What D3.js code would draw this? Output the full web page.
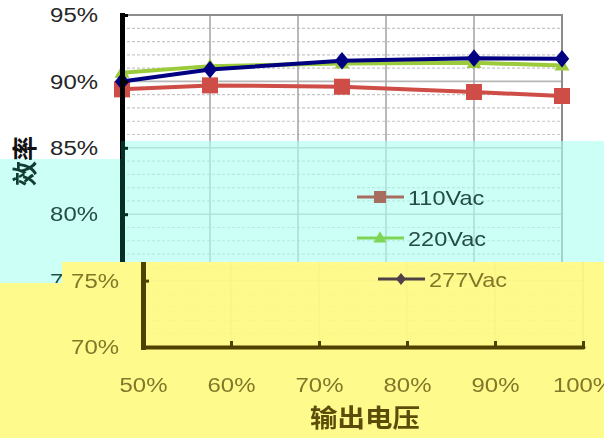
<!DOCTYPE html>
<html><head><meta charset="utf-8">
<script src="https://cdn.jsdelivr.net/npm/d3@7"></script>
<style>html,body{margin:0;padding:0;background:#fff;overflow:hidden}</style>
</head><body><svg id="c" width="604" height="438"></svg>
<script>
// ---- data ----
const xValues = [50, 60, 75, 90, 100];
const v110 = [89.4, 89.7, 89.6, 89.2, 88.9];
const v220 = [90.65, 91.15, 91.35, 91.4, 91.2];
const v277 = [90.0, 90.9, 91.55, 91.75, 91.7];
const seriesNames = ["110Vac", "220Vac", "277Vac"];
const xTicks = [50, 60, 70, 80, 90, 100];
const yTicks = [70, 75, 80, 85, 90, 95];
const xTitle = "输出电压";
const yTitle = "效率";

// ---- layout / style ----
const W = 604, H = 438;
const x = d3.scaleLinear().domain([50, 100]).range([122, 562]);
const y = d3.scaleLinear().domain([70, 95]).range([347, 15]);
const SX = 1.14;
const FONT = '"Liberation Sans", Arial, sans-serif';
const CJK = '"Noto Sans CJK SC", "Noto Sans CJK JP", sans-serif';

const series = [
  {name: seriesNames[0], values: v110, color: "#cf4d47", symbol: "square", ms: 16, ls: 12},
  {name: seriesNames[1], values: v220, color: "#9bcb3b", symbol: "triangle", ms: 15, ls: 13},
  {name: seriesNames[2], values: v277, color: "#000080", symbol: "diamond", ms: 16, ls: 11}
];

function markerPath(type, s) {
  if (type === "square") return `M${-s/2},${-s/2}h${s}v${s}h${-s}Z`;
  if (type === "diamond") { const w = s*0.45, h = s*0.55; return `M0,${-h}L${w},0L0,${h}L${-w},0Z`; }
  const w = s*0.5, h = s*0.85;
  return `M0,${-h*0.6}L${w},${h*0.4}L${-w},${h*0.4}Z`;
}

function drawChart(g, gridAlpha, textFill) {
  const grid = g.append("g").attr("opacity", gridAlpha);
  // minor dashed grid
  grid.append("g").selectAll("line")
    .data(d3.range(71, 95).filter(v => v % 5 !== 0)).join("line")
    .attr("x1", x(50)).attr("x2", x(100))
    .attr("y1", d => y(d)).attr("y2", d => y(d))
    .attr("stroke", "#c6c6c6").attr("stroke-width", 1.2).attr("stroke-dasharray", "3,2");
  // major horizontal grid
  grid.append("g").selectAll("line")
    .data(yTicks.filter(v => v > 70 && v < 95)).join("line")
    .attr("x1", x(50)).attr("x2", x(100))
    .attr("y1", d => y(d)).attr("y2", d => y(d))
    .attr("stroke", "#b8b8b8").attr("stroke-width", 1.6);
  // vertical grid
  grid.append("g").selectAll("line")
    .data(xTicks.filter(v => v > 50 && v < 100)).join("line")
    .attr("x1", d => x(d)).attr("x2", d => x(d))
    .attr("y1", y(95)).attr("y2", y(70))
    .attr("stroke", "#a8a8a8").attr("stroke-width", 1.6);
  // top & right border
  grid.append("path").attr("d", `M${x(50)},${y(95)}H${x(100)}V${y(70)}`)
    .attr("fill", "none").attr("stroke", "#8c8c8c").attr("stroke-width", 2);

  // series
  const line = d3.line().x((d, i) => x(xValues[i])).y(d => y(d));
  series.forEach(s => {
    g.append("path").attr("d", line(s.values)).attr("fill", "none")
      .attr("stroke", s.color).attr("stroke-width", 4).attr("stroke-linejoin", "round");
    g.append("g").selectAll("path").data(s.values).join("path")
      .attr("transform", (d, i) => `translate(${x(xValues[i])},${y(d)})`)
      .attr("d", markerPath(s.symbol, s.ms)).attr("fill", s.color);
  });

  // y axis
  const ya = g.append("g").attr("transform", `translate(${x(50)},0)`)
    .call(d3.axisLeft(y).tickValues(yTicks).tickFormat(d => d + "%")
      .tickSizeInner(-6).tickSizeOuter(0).tickPadding(24));
  ya.select(".domain").attr("stroke", "#000").attr("stroke-width", 5).attr("stroke-linecap", "square");
  ya.selectAll(".tick line").attr("stroke", "#000").attr("stroke-width", 3);
  ya.selectAll(".tick text").attr("x", -24 / SX).attr("transform", `scale(${SX},1)`)
    .attr("font-size", 21).attr("font-family", FONT).attr("fill", textFill);

  // x axis
  const xa = g.append("g").attr("transform", `translate(0,${y(70)})`)
    .call(d3.axisBottom(x).tickValues(xTicks).tickFormat(d => d + "%")
      .tickSizeInner(-6).tickSizeOuter(0).tickPadding(30));
  xa.select(".domain").attr("stroke", "#000").attr("stroke-width", 4).attr("stroke-linecap", "round");
  xa.selectAll(".tick line").attr("stroke", "#000").attr("stroke-width", 3);
  xa.selectAll(".tick text").attr("transform", `scale(${SX},1)`)
    .attr("x", 0).attr("font-size", 21).attr("font-family", FONT).attr("fill", textFill);

  // legend
  const lg = g.append("g").attr("transform", "translate(357,197)");
  const items = lg.selectAll("g").data(series).join("g")
    .attr("transform", (d, i) => `translate(0,${i * 41})`);
  items.append("line").attr("x1", 0).attr("x2", 47).attr("stroke", d => d.color).attr("stroke-width", 3);
  items.append("path").attr("transform", "translate(23,0)").attr("d", d => markerPath(d.symbol, d.ls))
    .attr("fill", d => d.color);
  items.append("text").attr("transform", `translate(51,7.5) scale(${SX - 0.02},1)`)
    .attr("font-size", 21).attr("font-family", FONT).attr("fill", textFill).text(d => d.name);

  // titles
  g.append("text").attr("transform", `translate(${(x(50) + x(100)) / 2 + 2},427) scale(1.1,1)`)
    .attr("text-anchor", "middle").attr("font-size", 25).attr("font-weight", "bold")
    .attr("font-family", CJK).attr("fill", "#111").text(xTitle);
  g.append("text").attr("transform", "translate(25,161) rotate(-90)")
    .attr("text-anchor", "middle").attr("dy", "0.36em").attr("font-size", 25).attr("font-weight", "bold")
    .attr("font-family", CJK).attr("fill", "#111").text(yTitle);
}

const svg = d3.select("#c");
const defs = svg.append("defs");
function addFilter(id, values) {
  defs.append("filter").attr("id", id).attr("filterUnits", "userSpaceOnUse")
    .attr("x", -60).attr("y", -60).attr("width", W + 120).attr("height", H + 120)
    .attr("color-interpolation-filters", "sRGB")
    .append("feColorMatrix").attr("type", "matrix").attr("values", values);
}
addFilter("fCyan", "0.78 0 0 0 0.02  0 0.82 0 0 0.18  0 0 0.82 0 0.145  0 0 0 1 0");
addFilter("fYel", "0.69 0 0 0 0.31  0 0.725 0 0 0.255  0 0 0.55 0 0  0 0 0 1 0");
defs.append("clipPath").attr("id", "clipCyan").append("polygon")
  .attr("points", "0,159 121,159 121,141 604,141 604,262 62,262 62,283 0,283");
defs.append("clipPath").attr("id", "clipYel").append("polygon")
  .attr("points", "62,262 604,262 604,438 0,438 0,283 62,283");

svg.append("rect").attr("width", W).attr("height", H).attr("fill", "#fff");
drawChart(svg.append("g"), 1, "#262626");

const cyanLayer = svg.append("g").attr("clip-path", "url(#clipCyan)").append("g").attr("filter", "url(#fCyan)");
cyanLayer.append("rect").attr("width", W).attr("height", H).attr("fill", "#fff");
drawChart(cyanLayer.append("g"), 0.45, "#262626");

const yelLayer = svg.append("g").attr("clip-path", "url(#clipYel)").append("g").attr("filter", "url(#fYel)");
yelLayer.append("rect").attr("width", W).attr("height", H).attr("fill", "#fff");
drawChart(yelLayer.append("g").attr("transform", "translate(21,0)"), 0.08, "#4a4a4a");
</script>
</body></html>
